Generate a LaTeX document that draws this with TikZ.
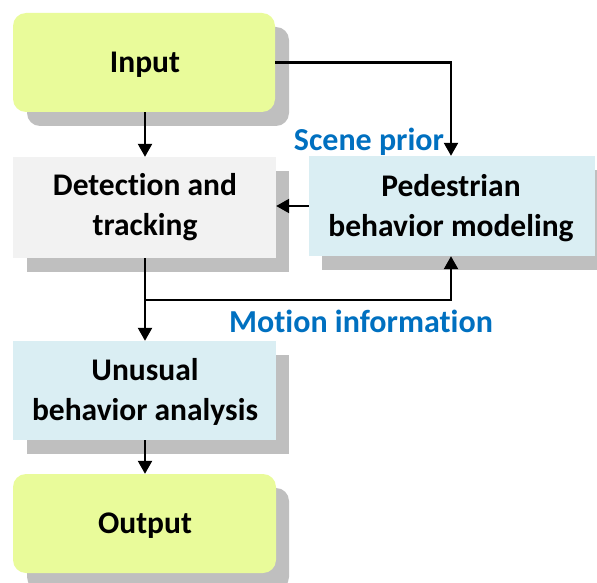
\documentclass[tikz,border=0pt]{standalone}
\usepackage{fontspec}
\setmainfont{Carlito}[Ligatures=CommonOff]
\usetikzlibrary{arrows.meta,calc}
\definecolor{boxyellow}{HTML}{E9FB9A}
\definecolor{boxgray}{HTML}{F2F2F2}
\definecolor{boxblue}{HTML}{DAEEF3}
\definecolor{shadowgray}{HTML}{BFBFBF}
\definecolor{labelblue}{HTML}{0070C0}
\tikzset{
  x=1pt,y=-1pt,
  boxtext/.style={font=\fontsize{31.5}{40}\selectfont\bfseries, align=center, inner sep=0pt},
  arr/.style={line width=2.3pt, -{Triangle[width=14pt,length=13pt]}},
  lbl/.style={font=\fontsize{32}{36}\selectfont\bfseries, text=labelblue, inner sep=0pt},
}
\begin{document}
\begin{tikzpicture}
\useasboundingbox (0,0) rectangle (597,583);
% shadows
\fill[shadowgray, rounded corners=13pt] (27,27) rectangle (289,126);
\fill[shadowgray] (27,171) rectangle (289,272);
\fill[shadowgray] (322,170) rectangle (597,270);
\fill[shadowgray] (27,355) rectangle (289,454);
\fill[shadowgray, rounded corners=13pt] (27,488) rectangle (289,590);
% boxes
\fill[boxyellow, rounded corners=13pt] (13,13) rectangle (275,112);
\fill[boxgray] (13,157) rectangle (276,258);
\fill[boxblue] (309,156) rectangle (595,256);
\fill[boxblue] (13,341) rectangle (276,440);
\fill[boxyellow, rounded corners=13pt] (13,474) rectangle (276,573);
% nodes
\node[minimum width=262pt, minimum height=99pt, inner sep=0pt] (input) at (144,62.5) {};
\node[boxtext] at (145,65) {Input};
\node[minimum width=263pt, minimum height=101pt, inner sep=0pt] (det) at (144.5,207.5) {};
\node[boxtext] at (145,207) {Detection and\\tracking};
\node[minimum width=286pt, minimum height=100pt, inner sep=0pt] (ped) at (452,206) {};
\node[boxtext] at (451,208) {Pedestrian\\behavior modeling};
\node[minimum width=263pt, minimum height=99pt, inner sep=0pt] (unu) at (144.5,390.5) {};
\node[boxtext] at (145,392) {Unusual\\behavior analysis};
\node[minimum width=263pt, minimum height=99pt, inner sep=0pt] (out) at (144.5,523.5) {};
\node[boxtext] at (145,526) {Output};
% labels
\node[lbl] (scene) at (369,142) {Scene prior};
\node[lbl] (motion) at (361,321) {Motion information};
% connectors
\draw[arr] (input.south -| 145,0) -- (det.north -| 145,0);
\draw[arr] (input.east) -| (ped.north -| 451,0);
\draw[arr] (ped.west) -- (det.east |- ped.west);
\draw[arr] (det.south -| 145,0) -- (unu.north -| 145,0);
\coordinate (br) at (145,300);
\draw[arr] (br) -| (ped.south -| 451,0);
\draw[arr] (unu.south -| 145,0) -- (out.north -| 145,0);
\end{tikzpicture}
\end{document}
